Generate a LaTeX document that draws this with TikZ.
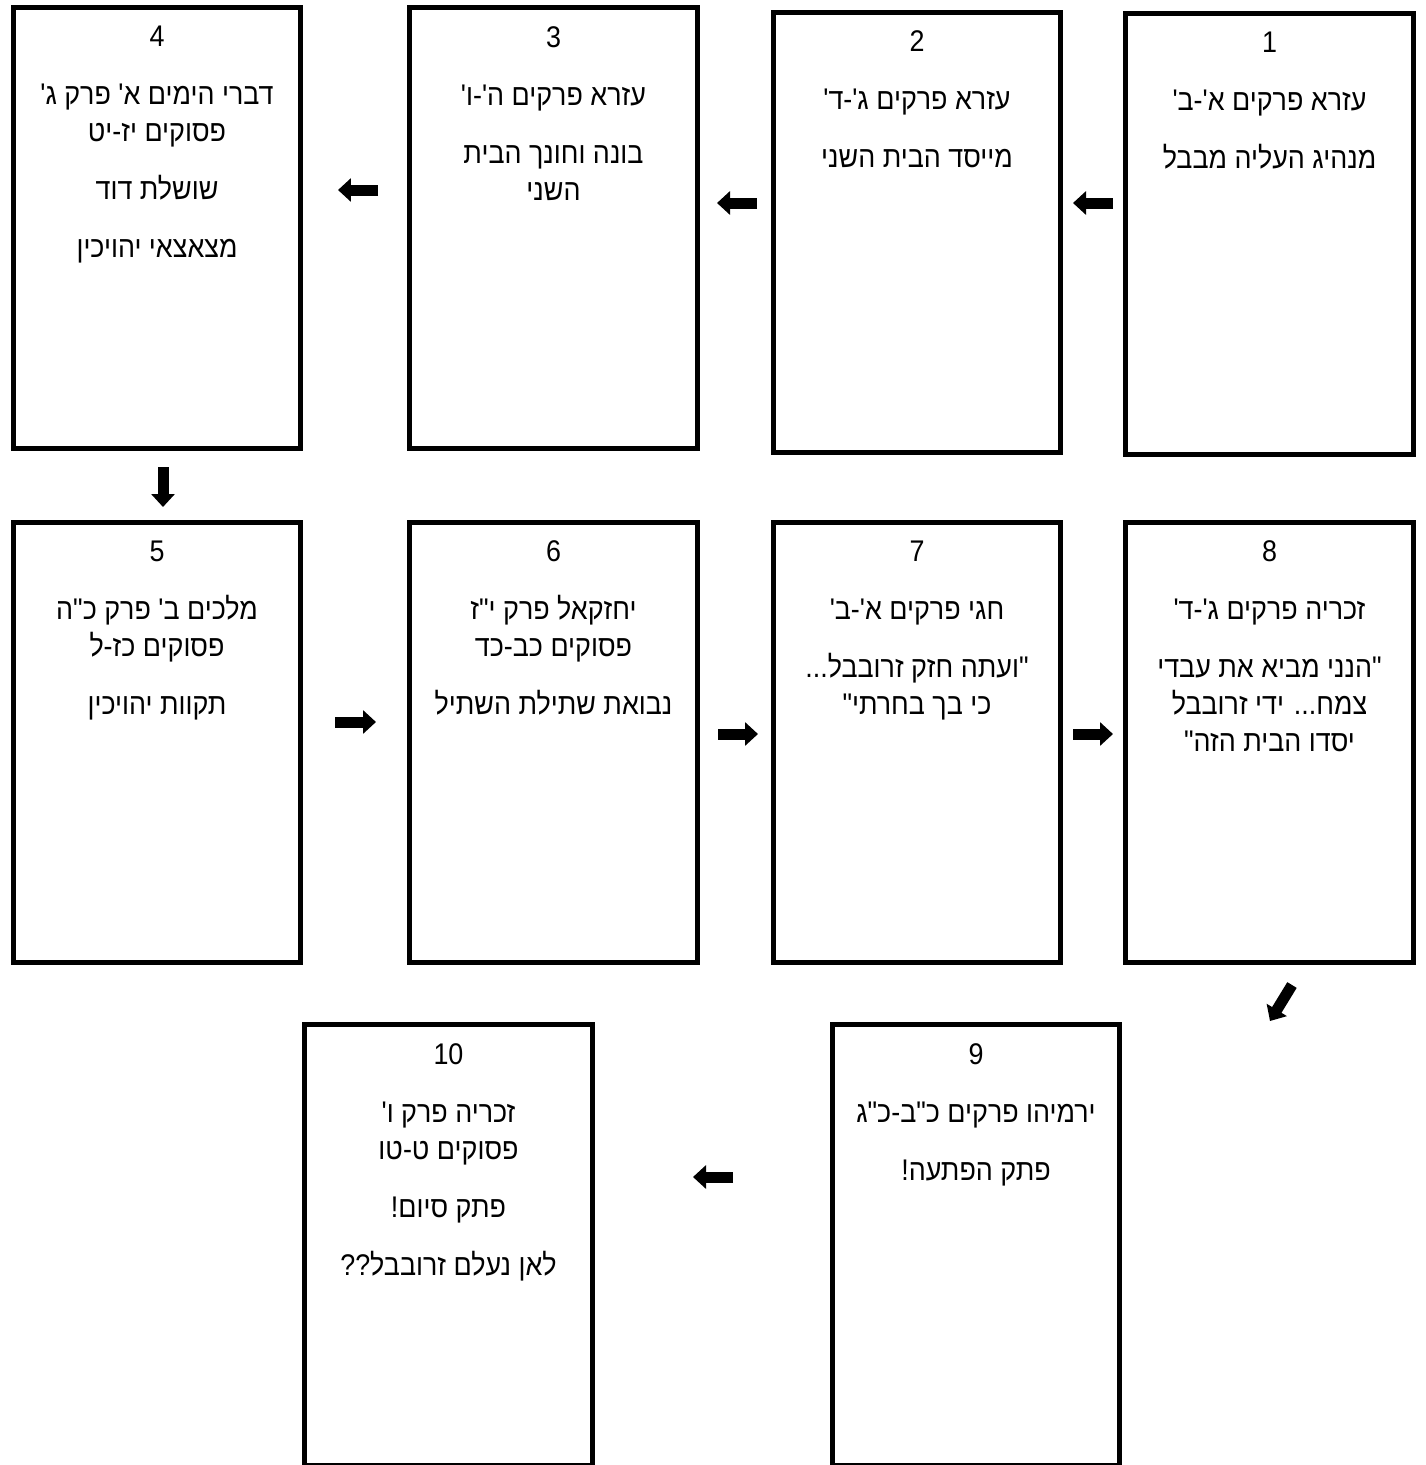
\documentclass[tikz,border=0pt]{standalone}
\usepackage{fontspec}
\newfontfamily\hebfont[Script=Hebrew, FakeStretch=0.9]{Liberation Sans}
\TeXXeTstate=1
\usetikzlibrary{arrows.meta,positioning}
\newcommand{\heb}[1]{\beginR #1\endR}

\begin{document}
\begin{tikzpicture}[
    x=0.02cm, y=-0.02cm,
    card/.style={rectangle, draw, line width=0.1cm, minimum width=5.76cm, minimum height=8.82cm, inner sep=0pt},
    cardtext/.style={align=center, inner sep=0pt, font=\hebfont\fontsize{17}{21}\selectfont},
    flow/.style={-{Triangle[length=0.26cm, width=0.46cm]}, line width=0.22cm}
]
    \useasboundingbox (0,0) rectangle (1426,1465);
    \clip (0,0) rectangle (1426,1465);

    % Cards
    \foreach \n/\x/\y in {1/1269.5/234, 2/917/232.5, 3/553.5/228, 4/157/228,
                          5/157/742.5, 6/553.5/742.5, 7/917/742.5, 8/1269.5/742.5,
                          9/976/1245, 10/448.5/1245} {
        \node[card] (c\n) at (\x,\y) {};
    }

    % Texts
    \node[cardtext, below=0.42cm of c1.north] (t1) {1\\[12pt]\heb{עזרא פרקים א'-ב'}\\[12pt]\heb{מנהיג העליה מבבל}};
    \node[cardtext, below=0.42cm of c2.north] (t2) {2\\[12pt]\heb{עזרא פרקים ג'-ד'}\\[12pt]\heb{מייסד הבית השני}};
    \node[cardtext, below=0.42cm of c3.north] (t3) {3\\[12pt]\heb{עזרא פרקים ה'-ו'}\\[12pt]\heb{בונה וחונך הבית}\\\heb{השני}};
    \node[cardtext, below=0.42cm of c4.north] (t4) {4\\[12pt]\heb{דברי הימים א' פרק ג'}\\\heb{פסוקים יז-יט}\\[12pt]\heb{שושלת דוד}\\[12pt]\heb{מצאצאי יהויכין}};
    \node[cardtext, below=0.42cm of c5.north] (t5) {5\\[12pt]\heb{מלכים ב' פרק כ"ה}\\\heb{פסוקים כז-ל}\\[12pt]\heb{תקוות יהויכין}};
    \node[cardtext, below=0.42cm of c6.north] (t6) {6\\[12pt]\heb{יחזקאל פרק י"ז}\\\heb{פסוקים כב-כד}\\[12pt]\heb{נבואת שתילת השתיל}};
    \node[cardtext, below=0.42cm of c7.north] (t7) {7\\[12pt]\heb{חגי פרקים א'-ב'}\\[12pt]\heb{"ועתה חזק זרובבל...}\\\heb{כי בך בחרתי"}};
    \node[cardtext, below=0.42cm of c8.north] (t8) {8\\[12pt]\heb{זכריה פרקים ג'-ד'}\\[12pt]\heb{"הנני מביא את עבדי}\\\heb{צמח... ידי זרובבל}\\\heb{יסדו הבית הזה"}};
    \node[cardtext, below=0.42cm of c9.north] (t9) {9\\[12pt]\heb{ירמיהו פרקים כ"ב-כ"ג}\\[12pt]\heb{פתק הפתעה!}};
    \node[cardtext, below=0.42cm of c10.north] (t10) {10\\[12pt]\heb{זכריה פרק ו'}\\\heb{פסוקים ט-טו}\\[12pt]\heb{פתק סיום!}\\[12pt]\heb{לאן נעלם זרובבל??}};

    % Arrows
    \foreach \a/\sx/\sy/\ex/\ey in {12/1113/203/1073/203, 23/757/203/717/203, 34/378/190/338/190,
                                   45/163/467/163/507, 56/335/722/376/722, 67/718/734/758/734,
                                   78/1073/734/1113/734, 89/1292/985/1270/1021, 910/733/1177/693/1177} {
        \coordinate (s\a) at (\sx,\sy);
        \coordinate (e\a) at (\ex,\ey);
        \draw[flow] (s\a) -- (e\a);
    }
\end{tikzpicture}
\end{document}
